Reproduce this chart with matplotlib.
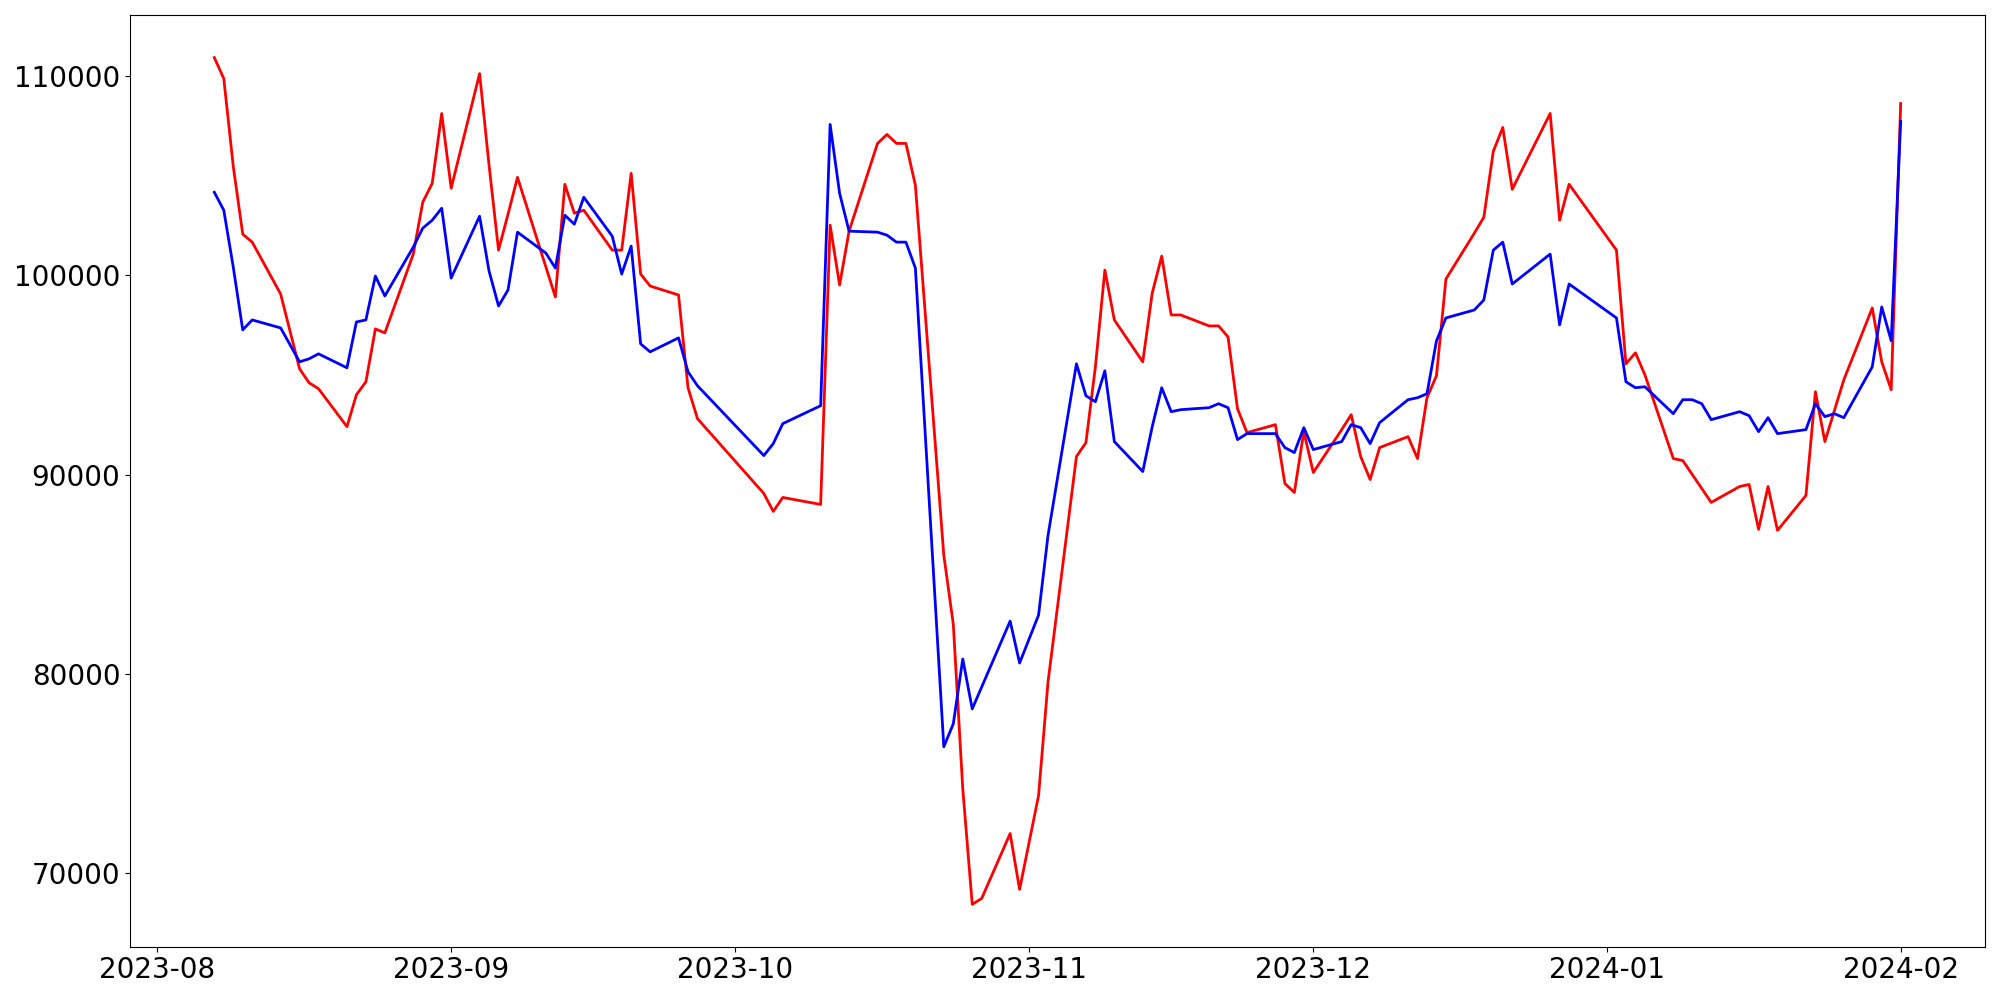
import pandas as pd
import matplotlib
matplotlib.use("Agg")
import matplotlib.pyplot as plt

# trading days (KRX calendar, holidays skipped)
aug = ["2023-08-%02d" % d for d in [7, 8, 9, 10, 11, 14, 16, 17, 18, 21, 22, 23, 24, 25, 28, 29, 30, 31]]
sep = ["2023-09-%02d" % d for d in [1, 4, 5, 6, 7, 8, 11, 12, 13, 14, 15, 18, 19, 20, 21, 22, 25, 26, 27]]
oct_ = ["2023-10-%02d" % d for d in [4, 5, 6, 10, 11, 12, 13, 16, 17, 18, 19, 20, 23, 24, 25, 26, 27, 30, 31]]
nov = ["2023-11-%02d" % d for d in [1, 2, 3, 6, 7, 8, 9, 10, 13, 14, 15, 16, 17, 20, 21, 22, 23, 24, 27, 28, 29, 30]]
dec = ["2023-12-%02d" % d for d in [1, 4, 5, 6, 7, 8, 11, 12, 13, 14, 15, 18, 19, 20, 21, 22, 26, 27, 28]]
jan = ["2024-01-%02d" % d for d in [2, 3, 4, 5, 8, 9, 10, 11, 12, 15, 16, 17, 18, 19, 22, 23, 24, 25, 26, 29, 30, 31]]
feb = ["2024-02-01"]
dates = pd.to_datetime(aug + sep + oct_ + nov + dec + jan + feb)

red_values = [
    # Aug
    110900, 109850, 105450, 102050, 101650, 99050, 95300, 94600, 94300, 92400,
    94000, 94650, 97300, 97100, 101050, 103650, 104600, 108100,
    # Sep
    104350, 110100, 105500, 101250, 103050, 104900, 100400, 98900, 104550, 103100,
    103250, 101250, 101250, 105100, 100050, 99450, 99000, 94350, 92800,
    # Oct
    89050, 88150, 88850, 88500, 102500, 99500, 102200, 106600, 107050, 106600,
    106600, 104500, 85950, 82500, 74250, 68450, 68750, 72000, 69200,
    # Nov
    71550, 73900, 79600, 90900, 91600, 95400, 100250, 97750, 95650, 99100, 100950,
    98000, 98000, 97450, 97450, 96900, 93300, 92100, 92500, 89550, 89100, 92150,
    # Dec
    90100, 92250, 93000, 90900, 89750, 91350, 91900, 90800, 93850, 94950,
    99800, 102100, 102900, 106200, 107400, 104300, 108100, 102750, 104550,
    # Jan
    101250, 95550, 96100, 95000, 90800, 90700, 90000, 89300, 88600, 89400, 89500,
    87250, 89400, 87200, 88950, 94150, 91650, 93200, 94750, 98350, 95650, 94250,
    # Feb
    108600,
]

blue_values = [
    # Aug
    104150, 103250, 100400, 97250, 97750, 97350, 95650, 95800, 96050, 95350,
    97650, 97750, 99950, 98950, 101400, 102350, 102750, 103350,
    # Sep
    99850, 102950, 100200, 98450, 99250, 102150, 101100, 100350, 103000, 102550,
    103900, 101950, 100050, 101450, 96550, 96150, 96850, 95150, 94450,
    # Oct
    90950, 91550, 92550, 93450, 107550, 104100, 102200, 102150, 102000, 101650,
    101650, 100350, 76350, 77500, 80750, 78250, 79350, 82650, 80550,
    # Nov
    81750, 82950, 86950, 95550, 93950, 93650, 95200, 91650, 90150, 92400, 94350,
    93150, 93250, 93350, 93550, 93350, 91750, 92050, 92050, 91350, 91100, 92350,
    # Dec
    91250, 91650, 92500, 92350, 91550, 92600, 93750, 93850, 94050, 96700,
    97850, 98250, 98750, 101250, 101650, 99550, 101050, 97500, 99550,
    # Jan
    97850, 94650, 94350, 94400, 93050, 93750, 93750, 93550, 92750, 93150, 92950,
    92150, 92850, 92050, 92250, 93550, 92900, 93050, 92850, 95400, 98400, 96700,
    # Feb
    107700,
]

fig, ax = plt.subplots(figsize=(20, 10), dpi=100)
fig.subplots_adjust(left=0.065, right=0.9925, top=0.9847, bottom=0.0533)

ax.plot(dates, red_values, color="red", linewidth=2)
ax.plot(dates, blue_values, color="blue", linewidth=2)

ax.tick_params(axis="both", labelsize=20)

fig.savefig("out.png", dpi=100)
